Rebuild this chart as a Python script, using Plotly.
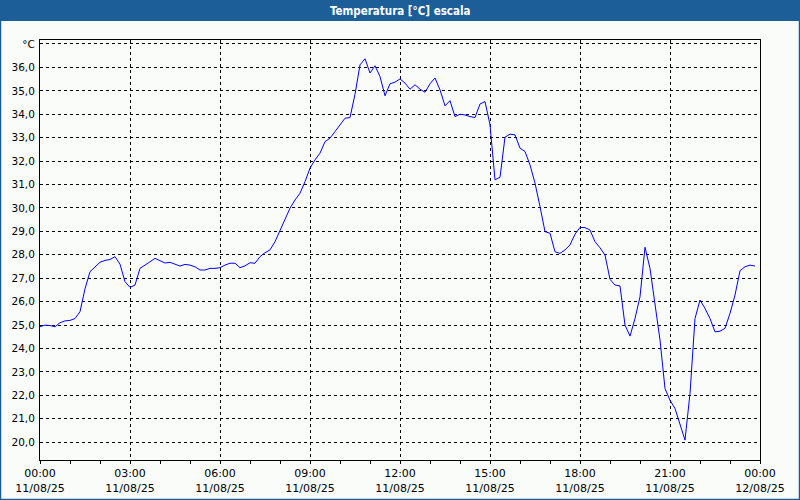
import plotly.graph_objects as go
import pandas as pd

# ---- data (10-minute samples, 11/08/25) ----
start_time = "2025-08-11 00:00"
sample_minutes = 10
temperature = [
    24.93, 25.00, 24.98, 24.93, 25.10, 25.18, 25.20, 25.28, 25.57, 26.55,
    27.28, 27.49, 27.68, 27.76, 27.80, 27.92, 27.60, 26.85, 26.61, 26.71,
    27.42, 27.56, 27.70, 27.85, 27.75, 27.65, 27.68, 27.61, 27.52, 27.59,
    27.56, 27.49, 27.35, 27.35, 27.42, 27.42, 27.45, 27.56, 27.64, 27.64,
    27.45, 27.53, 27.66, 27.64, 27.92, 28.09, 28.21, 28.56, 29.06, 29.56,
    29.99, 30.34, 30.63, 31.12, 31.70, 32.05, 32.34, 32.83, 32.98, 33.26,
    33.55, 33.83, 33.86, 34.85, 36.11, 36.37, 35.76, 36.07, 35.61, 34.79,
    35.30, 35.37, 35.51, 35.33, 35.07, 35.26, 35.07, 34.94, 35.30, 35.55,
    35.04, 34.36, 34.58, 33.90, 34.00, 33.97, 33.90, 33.86, 34.44, 34.54,
    33.55, 31.20, 31.31, 33.02, 33.15, 33.12, 32.55, 32.41, 31.84, 31.06,
    30.06, 28.99, 28.92, 28.13, 28.06, 28.21, 28.42, 28.88, 29.17, 29.16,
    29.06, 28.56, 28.30, 27.99, 26.95, 26.71, 26.67, 25.00, 24.53, 25.28,
    26.21, 28.32, 27.42, 25.93, 24.36, 22.29, 21.79, 21.44, 20.80, 20.09,
    22.08, 25.28, 26.07, 25.71, 25.28, 24.71, 24.74, 24.86, 25.50, 26.28,
    27.32, 27.49, 27.56, 27.52,
]
x_tick_times = ["2025-08-11 00:00", "2025-08-11 03:00", "2025-08-11 06:00",
                "2025-08-11 09:00", "2025-08-11 12:00", "2025-08-11 15:00",
                "2025-08-11 18:00", "2025-08-11 21:00", "2025-08-12 00:00"]
x_tick_labels = ["00:00<br>11/08/25", "03:00<br>11/08/25", "06:00<br>11/08/25",
                 "09:00<br>11/08/25", "12:00<br>11/08/25", "15:00<br>11/08/25",
                 "18:00<br>11/08/25", "21:00<br>11/08/25", "00:00<br>12/08/25"]
y_tick_values = list(range(20, 38))
y_tick_labels = [f"{v},0" for v in range(20, 37)] + ["°C"]
title_text = "Temperatura [°C] escala"

times = pd.date_range(start_time, periods=len(temperature), freq=f"{sample_minutes}min")

BG = "#fafcfa"
BLUE_BAR = "#1c5e98"

fig = go.Figure()
fig.add_trace(go.Scatter(x=times, y=temperature, mode="lines",
                         line=dict(color="#0000ff", width=1), showlegend=False,
                         hoverinfo="skip"))

fig.update_layout(
    width=800, height=500,
    margin=dict(l=40, r=40, t=40, b=40, autoexpand=False),
    paper_bgcolor=BG, plot_bgcolor=BG,
    font=dict(family="DejaVu Sans", size=10.5, color="#000000"),
    showlegend=False,
)
fig.update_xaxes(
    range=["2025-08-11 00:00", "2025-08-12 00:00"],
    tickmode="array", tickvals=x_tick_times, ticktext=x_tick_labels,
    tickfont=dict(size=11),
    showline=True, linecolor="#000000", linewidth=1, mirror=True,
    ticks="outside", ticklen=3, tickcolor="#000000", tickwidth=1,
    showgrid=True, gridcolor="#000000", gridwidth=1, griddash="3px,3px",
    minor=dict(ticks="outside", ticklen=3, tickcolor="#000000",
               dtick=3600000, tick0="2025-08-11 00:00", showgrid=False),
    zeroline=False, tickangle=0, automargin=False,
)
fig.update_yaxes(
    range=[19.24, 37.17],
    tickmode="array", tickvals=y_tick_values, ticktext=y_tick_labels,
    showline=True, linecolor="#000000", linewidth=1, mirror=True,
    ticks="", showgrid=True, gridcolor="#000000", gridwidth=1, griddash="3px,3px",
    zeroline=False, ticklabelstandoff=2, automargin=False,
)

def px_x(p):
    return (p - 40) / 720.0

def px_y(p):
    return (460 - p) / 420.0

shapes = [
    dict(type="rect", xref="paper", yref="paper",
         x0=px_x(0), x1=px_x(800), y0=px_y(21), y1=px_y(0),
         fillcolor=BLUE_BAR, line=dict(width=0), layer="below"),
    dict(type="rect", xref="paper", yref="paper",
         x0=px_x(0.5), x1=px_x(799.5), y0=px_y(499.5), y1=px_y(0.5),
         line=dict(color=BLUE_BAR, width=1.5), fillcolor="rgba(0,0,0,0)"),
]
fig.update_layout(shapes=shapes)
fig.add_annotation(text=f"<b>{title_text}</b>", xref="paper", yref="paper",
                   x=px_x(400), y=px_y(10.5), xanchor="center", yanchor="middle",
                   showarrow=False, font=dict(family="DejaVu Sans Condensed", size=11.5, color="#ffffff"))

fig.write_html("out.html", config={"displayModeBar": False, "staticPlot": True},
               post_script="document.body.style.margin='0';document.body.style.overflow='hidden';")
